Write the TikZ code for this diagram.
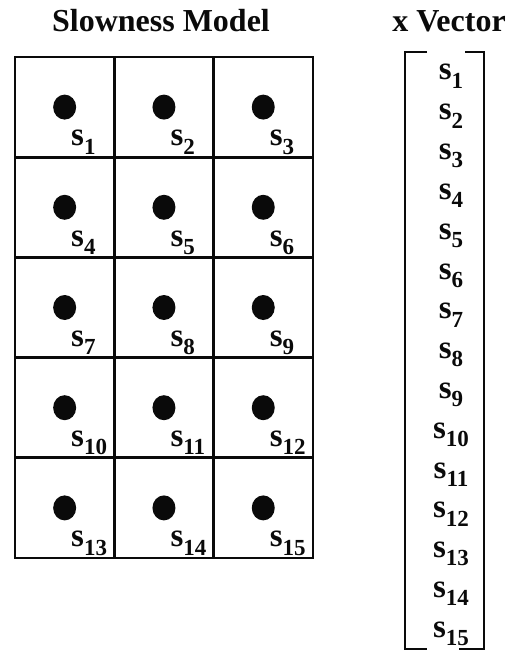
\documentclass[tikz,border=0pt]{standalone}
\usepackage{fontspec}
\setmainfont{Liberation Serif}
\usepackage{tikz}
\usetikzlibrary{positioning}
\definecolor{ink}{HTML}{0A0A0A}
\newcommand{\slw}[1]{\textbf{s}\raisebox{-0.25em}{\fontsize{23}{23}\selectfont\bfseries #1}}

\begin{document}
\begin{tikzpicture}[x=1pt,y=-1pt,font=\fontsize{33}{35}\selectfont\bfseries,color=ink]
  \useasboundingbox (0,0) rectangle (506,652);
  % titles
  \node[anchor=base,font=\fontsize{32}{34}\selectfont\bfseries] (modeltitle) at (161,32) {Slowness Model};
  \node[anchor=base,font=\fontsize{32}{34}\selectfont\bfseries] (vectitle) at (449,32) {x Vector};
  % model cells
  \foreach \r in {0,...,4}{
    \foreach \c in {0,...,2}{
      \pgfmathtruncatemacro{\k}{3*\r+\c+1}
      \draw[line width=2.8pt] (15+99.3*\c,57+100.2*\r) rectangle ++(99.3,100.2);
      \fill (64.65+99.3*\c,107.1+100.2*\r) ellipse [x radius=11.5pt,y radius=12.5pt];
      \node[anchor=base west,inner sep=0pt] (cell-\k) at (71,146) [xshift=99.3*\c,yshift=-100.2*\r] {\slw{\k}};
    }
  }
  % vector bracket
  \draw[line width=2.8pt] (427,52) -| (405,649) -- (427,649);
  \draw[line width=2.8pt] (465,52) -| (484,649) -- (459,649);
  % vector entries
  \foreach \k in {1,...,15}
    \node[anchor=base,inner sep=0pt] (vec-\k) at (451,{80+39.8*(\k-1)}) {\slw{\k}};
\end{tikzpicture}
\end{document}
